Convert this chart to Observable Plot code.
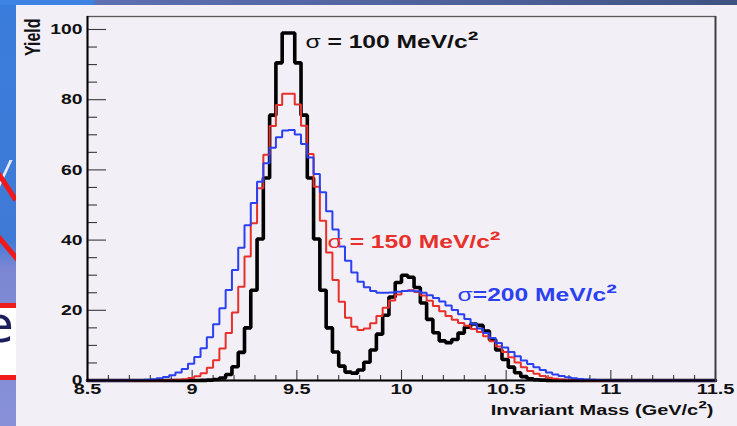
<!DOCTYPE html>
<html>
<head>
<meta charset="utf-8">
<script src="https://cdn.jsdelivr.net/npm/d3@7"></script>
<script src="https://cdn.jsdelivr.net/npm/@observablehq/plot@0.6"></script>
<style>
  html, body { margin: 0; padding: 0; }
  body { width: 737px; height: 426px; overflow: hidden; position: relative;
         font-family: "Liberation Sans", Arial, Helvetica, sans-serif; }
  #slide { position: absolute; left: 0; top: 0; width: 737px; height: 426px;
           background: linear-gradient(180deg, #3a7cdb 0px, #3f7ad6 240px, #7c87d3 268px, #8891d8 426px); }
  #topbar { position: absolute; left: 0; top: 0; width: 737px; height: 5px;
            background: linear-gradient(90deg, #3d83e3 0px, #3d83e3 92px, #5e6fb2 97px, #4e6099 480px, #3f5382 737px); }
  #strip { position: absolute; left: 0; top: 0; width: 16px; height: 426px; overflow: hidden; }
  .bar { position: absolute; height: 5px; background: #f01818; transform-origin: 0 50%; }
  #whitebox { position: absolute; left: 0; top: 303px; width: 16px; height: 77px; background: #fff;
              border-top: 5px solid #ee1c1c; border-bottom: 5px solid #ee1c1c; box-sizing: border-box; overflow: hidden; }
  #whitebox span { position: absolute; left: -17px; top: -12px; font-size: 50px; color: #1c1f5c;
                   font-family: "DejaVu Sans", sans-serif; }
  #glyph { position: absolute; left: 3px; top: 160px; width: 3px; height: 28px; background: #f4f6ff;
           transform: skewX(-25deg); opacity: 0.9; }
  #panel { position: absolute; left: 16px; top: 5px; width: 721px; height: 421px; background: #f3eff6; }
  #chart { position: absolute; left: 0; top: 0; }
</style>
</head>
<body>
<div id="slide"></div>
<div id="topbar"></div>
<div id="strip">
  <div id="glyph"></div>
  <div class="bar" style="left:-6px; top:164px; width:40px; transform: rotate(57deg);"></div>
  <div class="bar" style="left:-6px; top:229px; width:40px; transform: rotate(50deg);"></div>
  <div id="whitebox"><span>e</span></div>
</div>
<div id="panel"></div>
<div id="chart"></div>
<script>
// ---- data (100 bins from 8.5 to 11.5 GeV/c^2, width 0.03) ----
const binStart = 8.5;
const binWidth = 0.03;

const yield100 = [
  0, 0, 0, 0, 0, 0, 0, 0, 0, 0,
  0, 0, 0, 0, 0, 0, 0, 0, 0.03, 0.1,
  0.3, 0.7, 1.7, 3.9, 8.0, 15.0, 25.7, 40.3, 57.7, 75.6,
  90.5, 99.0, 99.0, 90.5, 75.6, 57.7, 40.3, 25.7, 15.0, 8.1,
  4.1, 2.4, 2.1, 3.0, 5.2, 8.7, 13.2, 18.6, 23.8, 27.9,
  30.0, 29.4, 26.5, 22.1, 17.4, 13.6, 11.3, 10.8, 11.7, 13.5,
  15.2, 16.1, 15.7, 14.1, 11.6, 8.7, 6.0, 3.8, 2.2, 1.1,
  0.5, 0.2, 0.1, 0.04, 0.02, 0, 0, 0, 0, 0,
  0, 0, 0, 0, 0, 0, 0, 0, 0, 0,
  0, 0, 0, 0, 0, 0, 0, 0, 0, 0
];
const yield150 = [
  0, 0, 0, 0, 0, 0, 0, 0, 0, 0,
  0, 0.02, 0.04, 0.1, 0.2, 0.35, 0.7, 1.2, 2.1, 3.6,
  5.8, 9.1, 13.5, 19.4, 26.7, 35.3, 44.8, 54.8, 64.3, 72.5,
  78.5, 81.7, 81.7, 78.6, 72.6, 64.5, 55.2, 45.5, 36.5, 28.6,
  22.4, 17.9, 15.3, 14.4, 14.8, 16.3, 18.4, 20.7, 22.8, 24.5,
  25.5, 25.7, 25.2, 24.2, 22.7, 21.2, 19.7, 18.4, 17.3, 16.4,
  15.6, 14.7, 13.8, 12.6, 11.2, 9.7, 8.1, 6.6, 5.1, 3.8,
  2.7, 1.9, 1.3, 0.8, 0.5, 0.3, 0.17, 0.09, 0.05, 0.02,
  0, 0, 0, 0, 0, 0, 0, 0, 0, 0,
  0, 0, 0, 0, 0, 0, 0, 0, 0, 0
];
const yield200 = [
  0.01, 0.01, 0.01, 0.01, 0.02, 0.03, 0.05, 0.08, 0.14, 0.24,
  0.39, 0.63, 0.99, 1.5, 2.3, 3.3, 4.8, 6.7, 9.2, 12.3,
  16.0, 20.6, 25.8, 31.5, 37.8, 44.2, 50.6, 56.6, 61.9, 66.3,
  69.3, 71.2, 71.4, 70.1, 67.4, 63.5, 58.8, 53.6, 48.2, 43.0,
  38.2, 34.1, 30.8, 28.1, 26.6, 25.5, 25.0, 25.0, 25.1, 25.3,
  25.5, 25.6, 25.4, 25.0, 24.3, 23.5, 22.5, 21.4, 20.1, 18.9,
  17.5, 16.2, 14.8, 13.5, 12.1, 10.7, 9.4, 8.1, 6.9, 5.7,
  4.7, 3.8, 3.0, 2.3, 1.7, 1.3, 0.9, 0.65, 0.45, 0.31,
  0.2, 0.13, 0.08, 0.05, 0.03, 0, 0, 0, 0, 0,
  0, 0, 0, 0, 0, 0, 0, 0, 0, 0
];

const seriesNames = ["σ = 100 MeV/c²", "σ = 150 MeV/c²", "σ=200 MeV/c²"];
const seriesColors = ["#000000", "#e8302b", "#2b40f0"];

const yTicks = [0, 20, 40, 60, 80, 100];
const xTicks = [8.5, 9, 9.5, 10, 10.5, 11, 11.5];
const xTickLabels = ["8.5", "9", "9.5", "10", "10.5", "11", "11.5"];
const xTitle = "Invariant Mass (GeV/c²)";
const yTitle = "Yield";

// ---- helpers ----
const yMinor = d3.range(5, 104, 5).filter(v => v % 20 !== 0);
const xMinor = d3.range(86, 115).map(i => i / 10).filter(v => !xTicks.includes(v));

function steps(values) {
  const pts = values.map((v, i) => ({x: binStart + i * binWidth, y: v}));
  pts.push({x: binStart + values.length * binWidth, y: values[values.length - 1]});
  return pts;
}

const W = 737, H = 426, ML = 87, MR = 22, MT = 16, MB = 46;
const PW = W - ML - MR, PH = H - MT - MB;
const STRETCH = 1.33;

const chart = Plot.plot({
  width: W, height: H,
  marginLeft: ML, marginRight: MR, marginTop: MT, marginBottom: MB,
  style: {background: "transparent", overflow: "visible",
          fontFamily: '"Liberation Sans", Arial, Helvetica, sans-serif', color: "#111"},
  x: {domain: [8.5, 11.5]},
  y: {domain: [0, 103.7]},
  marks: [
    Plot.frame({stroke: "#5a5a5a", strokeWidth: 1.3}),
    Plot.tickY(yTicks, {y: d => d, insetRight: PW - 19, stroke: "#3a3a3a", strokeWidth: 1.1}),
    Plot.tickY(yMinor, {y: d => d, insetRight: PW - 10, stroke: "#3a3a3a", strokeWidth: 1.1}),
    Plot.tickX(xTicks, {x: d => d, insetTop: PH - 10, stroke: "#3a3a3a", strokeWidth: 1.1}),
    Plot.tickX(xMinor, {x: d => d, insetTop: PH - 5, stroke: "#3a3a3a", strokeWidth: 1.1}),
    Plot.line(steps(yield100), {x: "x", y: "y", curve: "step-after", stroke: seriesColors[0], strokeWidth: 3.6, strokeLinejoin: "miter"}),
    Plot.line(steps(yield150), {x: "x", y: "y", curve: "step-after", stroke: seriesColors[1], strokeWidth: 2, strokeLinejoin: "miter"}),
    Plot.line(steps(yield200), {x: "x", y: "y", curve: "step-after", stroke: seriesColors[2], strokeWidth: 2, strokeLinejoin: "miter"}),
    Plot.ruleX([8.5], {stroke: "#000", strokeWidth: 2}),
    Plot.ruleX([11.5], {stroke: "#3c3c3c", strokeWidth: 1.8}),
    Plot.ruleY([0], {stroke: "#000", strokeWidth: 1.8}),
    Plot.axisY(yTicks, {anchor: "left", tickSize: 0, tickPadding: 5, fontSize: 14.5, fontWeight: "bold", label: null}),
    Plot.axisX(xTicks, {anchor: "bottom", tickSize: 0, tickPadding: 3, fontSize: 15, fontWeight: "bold", label: null,
                        tickFormat: d => xTickLabels[xTicks.indexOf(d)]}),
    Plot.text([xTitle], {frameAnchor: "bottom-right", textAnchor: "end", lineAnchor: "middle",
                         dx: -2, dy: 30, fontSize: 15, fontWeight: "bold", fill: "#111"}),
    Plot.text([yTitle], {frameAnchor: "top-left", rotate: -90, textAnchor: "end", lineAnchor: "middle",
                         dx: -54, dy: 2, fontSize: 16, fontWeight: "bold", fill: "#111"}),
    Plot.text([seriesNames[0]], {x: 9.541, y: 96.3, textAnchor: "start", lineAnchor: "middle",
                                 fontSize: 18.5, fontWeight: "bold", fill: "#111"}),
    Plot.text([seriesNames[1]], {x: 9.647, y: 39.3, textAnchor: "start", lineAnchor: "middle",
                                 fontSize: 18.5, fontWeight: "bold", fill: seriesColors[1]}),
    Plot.text([seriesNames[2]], {x: 10.268, y: 24.2, textAnchor: "start", lineAnchor: "middle",
                                 fontSize: 18.5, fontWeight: "bold", fill: seriesColors[2]})
  ]
});

document.getElementById("chart").appendChild(chart);

// ---- text styling: thin sigma glyph, larger superscript, horizontal glyph stretch of the original picture ----
const NS = "http://www.w3.org/2000/svg";
chart.querySelectorAll("text").forEach(t => {
  const s = t.textContent;
  if (!s.includes("σ") && !s.includes("²")) return;
  t.textContent = "";
  const parts = s.split(/(σ|²)/).filter(p => p.length);
  for (const p of parts) {
    const sp = document.createElementNS(NS, "tspan");
    sp.textContent = p;
    if (p === "σ") sp.setAttribute("font-weight", "normal");
    if (p === "²") sp.setAttribute("font-size", "1.3em");
    t.appendChild(sp);
  }
});
chart.querySelectorAll("text").forEach(t => {
  const tr = t.getAttribute("transform") || "";
  if (tr.includes("rotate")) {
    t.setAttribute("transform", tr + ` scale(1,${STRETCH})`);
    return;
  }
  const w = t.getComputedTextLength();
  if (w > 0) {
    t.setAttribute("textLength", (w * STRETCH).toFixed(1));
    t.setAttribute("lengthAdjust", "spacingAndGlyphs");
  }
});
</script>
</body>
</html>
